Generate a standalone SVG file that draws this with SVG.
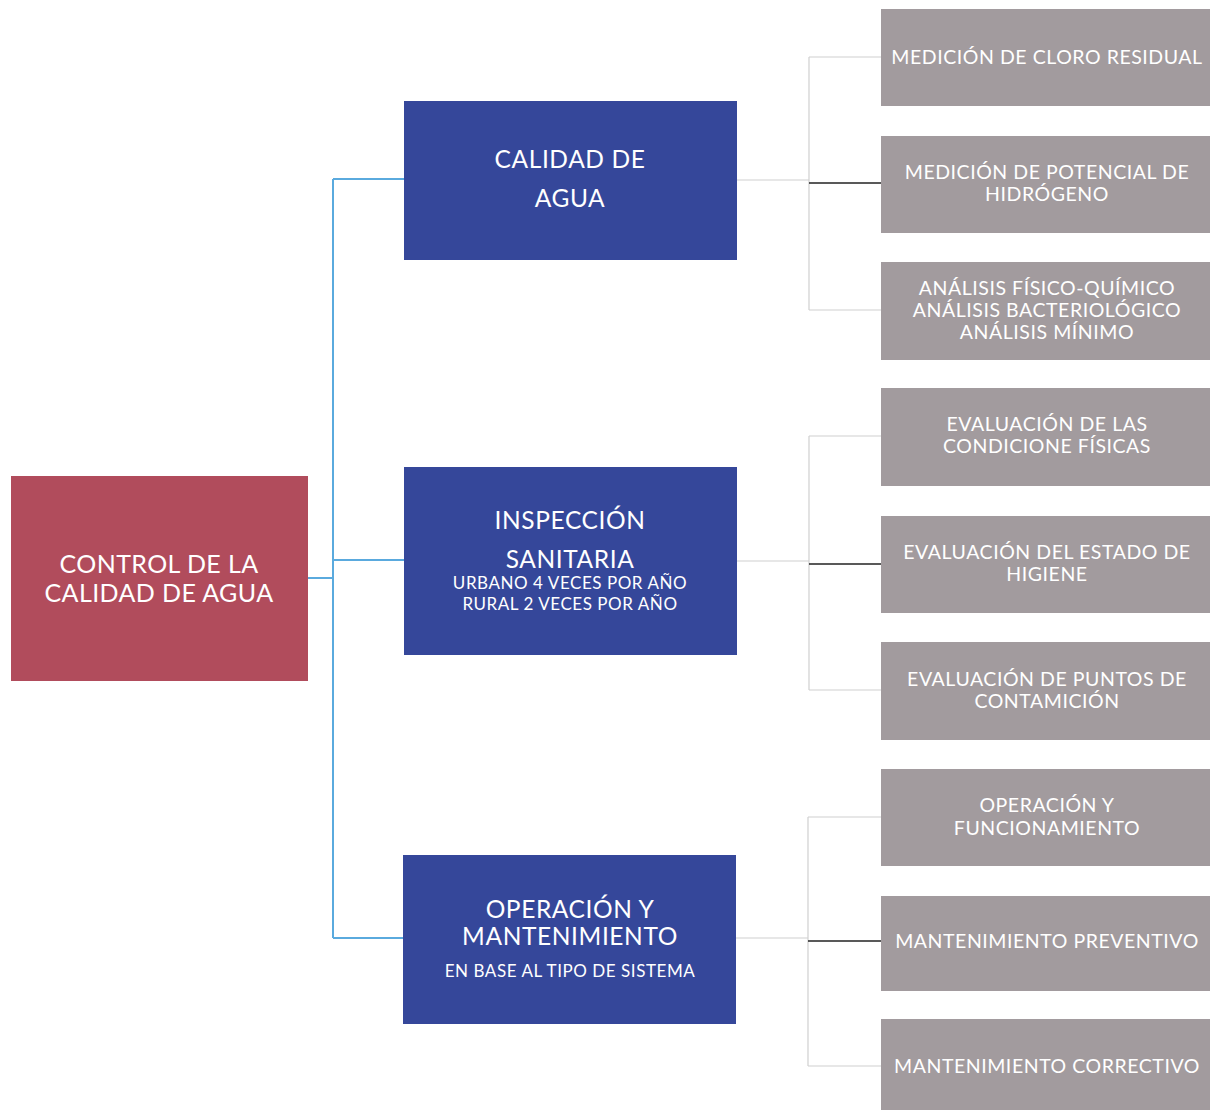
<svg xmlns="http://www.w3.org/2000/svg" width="1210" height="1110" viewBox="0 0 1210 1110">
<style>
text{font-family:Lato,"Open Sans","Liberation Sans",sans-serif;fill:#fff;text-anchor:middle}
.root{fill:#b14c5c}
.mid{fill:#35479a}
.leaf{fill:#a29b9e}
.t1{font-size:25px;letter-spacing:0.4px}
.t2{font-size:24.5px;letter-spacing:0.6px}
.t3{font-size:17px;letter-spacing:0.55px}
.t4{font-size:19.5px;letter-spacing:0.55px}
.blue{stroke:#5aaade;stroke-width:2;fill:none}
.thin{stroke:#d0d0d0;stroke-width:1.2;fill:none}
.dark{stroke:#222;stroke-width:1.6;fill:none}
</style>
<rect width="1210" height="1110" fill="#fff"/>
<g id="connectors">
<path class="blue" d="M308 578H333M333 179V938M333 179H404M333 560H404M333 938H403"/>
<path class="thin" d="M737 180H809M809 57V310M809 57H881M809 310H881"/>
<path class="dark" d="M809 183H881"/>
<path class="thin" d="M737 561H809M809 436V690M809 436H881M809 690H881"/>
<path class="dark" d="M809 564H881"/>
<path class="thin" d="M736 938H808M808 817V1066M808 817H881M808 1066H881"/>
<path class="dark" d="M808 941H881"/>
</g>
<g id="root">
<rect class="root" x="11" y="476" width="297" height="205"/>
<text class="t1" x="159" y="573">CONTROL DE LA</text>
<text class="t1" x="159" y="602">CALIDAD DE AGUA</text>
</g>
<g id="calidad">
<rect class="mid" x="404" y="101" width="333" height="159"/>
<text class="t2" x="570" y="168">CALIDAD DE</text>
<text class="t2" x="570" y="207">AGUA</text>
</g>
<g id="inspeccion">
<rect class="mid" x="404" y="467" width="333" height="188"/>
<text class="t2" x="570" y="529">INSPECCIÓN</text>
<text class="t2" x="570" y="568">SANITARIA</text>
<text class="t3" x="570" y="589">URBANO 4 VECES POR AÑO</text>
<text class="t3" x="570" y="610">RURAL 2 VECES POR AÑO</text>
</g>
<g id="operacion">
<rect class="mid" x="403" y="855" width="333" height="169"/>
<text class="t2" x="570" y="918">OPERACIÓN Y</text>
<text class="t2" x="570" y="945">MANTENIMIENTO</text>
<text class="t3" x="570" y="977">EN BASE AL TIPO DE SISTEMA</text>
</g>
<g id="leaf1">
<rect class="leaf" x="881" y="9" width="329" height="97"/>
<text class="t4" x="1047" y="64">MEDICIÓN DE CLORO RESIDUAL</text>
</g>
<g id="leaf2">
<rect class="leaf" x="881" y="136" width="329" height="97"/>
<text class="t4" x="1047" y="179">MEDICIÓN DE POTENCIAL DE</text>
<text class="t4" x="1047" y="201">HIDRÓGENO</text>
</g>
<g id="leaf3">
<rect class="leaf" x="881" y="262" width="329" height="98"/>
<text class="t4" x="1047" y="295">ANÁLISIS FÍSICO-QUÍMICO</text>
<text class="t4" x="1047" y="317">ANÁLISIS BACTERIOLÓGICO</text>
<text class="t4" x="1047" y="339">ANÁLISIS MÍNIMO</text>
</g>
<g id="leaf4">
<rect class="leaf" x="881" y="388" width="329" height="98"/>
<text class="t4" x="1047" y="431">EVALUACIÓN DE LAS</text>
<text class="t4" x="1047" y="453">CONDICIONE FÍSICAS</text>
</g>
<g id="leaf5">
<rect class="leaf" x="881" y="516" width="329" height="97"/>
<text class="t4" x="1047" y="559">EVALUACIÓN DEL ESTADO DE</text>
<text class="t4" x="1047" y="581">HIGIENE</text>
</g>
<g id="leaf6">
<rect class="leaf" x="881" y="642" width="329" height="98"/>
<text class="t4" x="1047" y="686">EVALUACIÓN DE PUNTOS DE</text>
<text class="t4" x="1047" y="708">CONTAMICIÓN</text>
</g>
<g id="leaf7">
<rect class="leaf" x="881" y="769" width="329" height="97"/>
<text class="t4" x="1047" y="812">OPERACIÓN Y</text>
<text class="t4" x="1047" y="835">FUNCIONAMIENTO</text>
</g>
<g id="leaf8">
<rect class="leaf" x="881" y="896" width="329" height="95"/>
<text class="t4" x="1047" y="948">MANTENIMIENTO PREVENTIVO</text>
</g>
<g id="leaf9">
<rect class="leaf" x="881" y="1019" width="329" height="91"/>
<text class="t4" x="1047" y="1073">MANTENIMIENTO CORRECTIVO</text>
</g>
</svg>
